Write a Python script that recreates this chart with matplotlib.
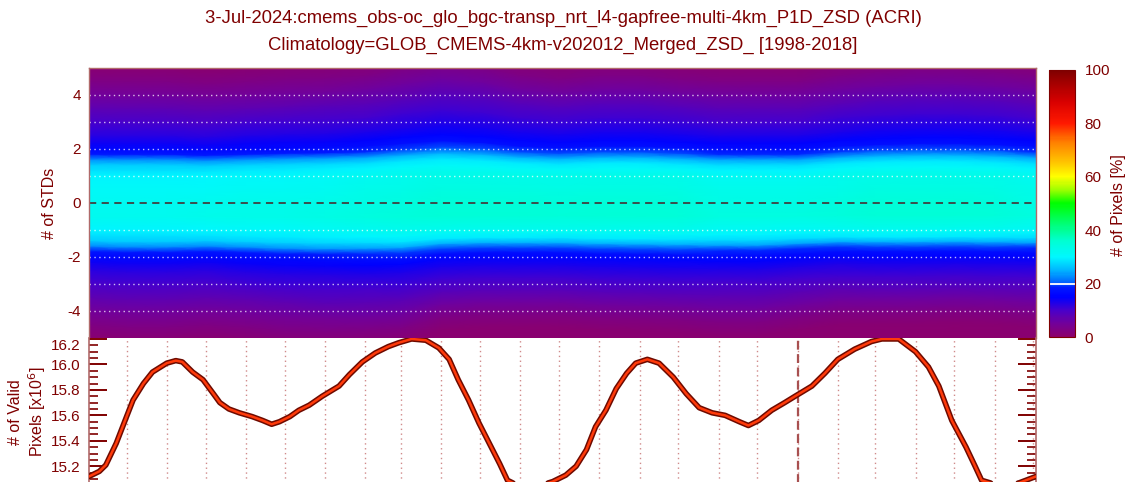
import numpy as np
import matplotlib
matplotlib.use('Agg')
import matplotlib.pyplot as plt
import matplotlib.dates as mdates
from matplotlib.colors import LinearSegmentedColormap
import datetime as dt

# ---------------- data ----------------
title_line1 = "3-Jul-2024:cmems_obs-oc_glo_bgc-transp_nrt_l4-gapfree-multi-4km_P1D_ZSD (ACRI)"
title_line2 = "Climatology=GLOB_CMEMS-4km-v202012_Merged_ZSD_ [1998-2018]"

start_date = "2022-07-03"
end_date = "2024-07-03"
year_mark = "2024-01-01"

curve_dates = [
    "2022-07-03", "2022-07-11", "2022-07-16", "2022-07-24", "2022-08-01", "2022-08-06",
    "2022-08-14", "2022-08-21", "2022-09-01", "2022-09-08", "2022-09-13", "2022-09-21",
    "2022-09-29", "2022-10-07", "2022-10-12", "2022-10-19", "2022-10-27", "2022-11-06",
    "2022-11-14", "2022-11-21", "2022-11-27", "2022-12-05", "2022-12-12", "2022-12-20",
    "2022-12-30", "2023-01-12", "2023-01-20", "2023-01-30", "2023-02-09", "2023-02-19",
    "2023-02-27", "2023-03-09", "2023-03-20", "2023-03-30", "2023-04-07", "2023-04-14",
    "2023-04-22", "2023-04-30", "2023-05-08", "2023-05-16", "2023-05-22", "2023-05-29",
    "2023-06-08", "2023-06-18", "2023-06-26", "2023-07-06", "2023-07-14", "2023-07-22",
    "2023-07-29", "2023-08-06", "2023-08-14", "2023-08-22", "2023-08-29", "2023-09-07",
    "2023-09-16", "2023-09-27", "2023-10-07", "2023-10-17", "2023-10-27", "2023-11-06",
    "2023-11-17", "2023-11-24", "2023-12-02", "2023-12-12", "2023-12-22", "2023-12-30",
    "2024-01-12", "2024-01-22", "2024-02-01", "2024-02-14", "2024-02-27", "2024-03-06",
    "2024-03-19", "2024-04-01", "2024-04-11", "2024-04-19", "2024-04-29", "2024-05-10",
    "2024-05-17", "2024-05-22", "2024-06-04", "2024-06-12", "2024-06-20", "2024-07-03",
]
curve_values = [
    15.12, 15.16, 15.21, 15.38, 15.59, 15.72,
    15.85, 15.94, 16.01, 16.03, 16.02, 15.94,
    15.88, 15.77, 15.70, 15.65, 15.62, 15.59,
    15.56, 15.53, 15.55, 15.59, 15.64, 15.68,
    15.75, 15.83, 15.92, 16.02, 16.09, 16.14,
    16.17, 16.20, 16.19, 16.13, 16.04, 15.88,
    15.72, 15.54, 15.38, 15.22, 15.09, 15.055,
    15.05, 15.055, 15.08, 15.13, 15.20, 15.33,
    15.51, 15.64, 15.81, 15.93, 16.01, 16.04,
    16.01, 15.90, 15.77, 15.66, 15.62, 15.60,
    15.55, 15.52, 15.56, 15.64, 15.70, 15.75,
    15.83, 15.93, 16.04, 16.12, 16.18, 16.20,
    16.20, 16.10, 15.98, 15.83, 15.56, 15.35,
    15.20, 15.09, 15.05, 15.055, 15.07, 15.12,
]

# heat map: distribution of # of pixels [%] vs number of STDs
std_levels = [-6, -5, -4.5, -4, -3.5, -3, -2.5, -2.2, -2.0, -1.8, -1.6, -1.4, -1.2, -1.0,
              -0.5, 0, 0.5, 1.0, 1.2, 1.4, 1.6, 1.8, 2.0, 2.2, 2.5, 3, 3.5, 4, 4.5, 5, 6]
pct_profile = [0, 1, 3, 5.5, 8, 10.5, 13, 15, 16.5, 19, 24, 28, 30, 31.5,
               34, 33.5, 32.5, 31.5, 30, 28, 24, 19, 16.5, 15, 13, 10.5, 8, 5.5, 3, 1, 0]
node_dates = [
    "2022-07-03", "2022-08-01", "2022-09-01", "2022-10-01", "2022-11-01", "2022-12-01",
    "2023-01-01", "2023-02-01", "2023-03-01", "2023-04-01", "2023-05-01", "2023-06-01",
    "2023-07-01", "2023-08-01", "2023-09-01", "2023-10-01", "2023-11-01", "2023-12-01",
    "2024-01-01", "2024-02-01", "2024-03-01", "2024-04-01", "2024-05-01", "2024-06-01",
    "2024-07-03",
]
upper_spread = [1.00, 1.00, 1.00, 0.98, 1.00, 1.02, 1.03, 1.05, 1.10, 1.15, 1.12, 1.05,
                1.02, 1.05, 1.05, 1.02, 1.00, 1.00, 1.00, 1.05, 1.08, 1.10, 1.10, 1.08, 1.05]
lower_spread = [1.00, 1.02, 1.02, 1.00, 1.02, 1.05, 1.06, 1.05, 1.03, 0.94, 0.92, 0.92,
                0.92, 0.94, 0.95, 0.96, 0.98, 0.98, 0.94, 0.90, 0.90, 0.90, 0.89, 0.90, 0.92]
center_gain = [0.95, 0.95, 0.95, 0.96, 0.97, 0.97, 0.98, 1.00, 1.02, 1.04, 1.04, 1.04,
               1.03, 1.04, 1.04, 1.03, 1.00, 1.00, 1.00, 1.02, 1.04, 1.04, 1.04, 1.03, 1.00]

cbar_ticks = [0, 20, 40, 60, 80, 100]
std_ticks = [-4, -2, 0, 2, 4]
pix_ticks = [15.2, 15.4, 15.6, 15.8, 16.0, 16.2]

# ---------------- style ----------------
DR = '#7F0000'
SPINE = '#B06A6A'
plt.rcParams['font.family'] = ['Liberation Sans', 'DejaVu Sans']

cmap = LinearSegmentedColormap.from_list('idl_rainbow', [
    (0.00, (0.55, 0.00, 0.42)),
    (0.05, (0.45, 0.00, 0.60)),
    (0.10, (0.28, 0.00, 0.80)),
    (0.15, (0.00, 0.00, 1.00)),
    (0.185, (0.00, 0.10, 1.00)),
    (0.20, (0.00, 0.35, 1.00)),
    (0.25, (0.00, 0.72, 1.00)),
    (0.30, (0.00, 0.97, 1.00)),
    (0.36, (0.00, 1.00, 0.82)),
    (0.45, (0.00, 1.00, 0.30)),
    (0.50, (0.00, 1.00, 0.00)),
    (0.55, (0.60, 1.00, 0.00)),
    (0.60, (1.00, 1.00, 0.00)),
    (0.66, (1.00, 0.75, 0.00)),
    (0.73, (1.00, 0.50, 0.00)),
    (0.80, (1.00, 0.10, 0.00)),
    (0.88, (0.85, 0.00, 0.00)),
    (1.00, (0.50, 0.00, 0.00)),
])

W, H = 1126, 482
fig = plt.figure(figsize=(W / 100, H / 100), dpi=100)

def rect(x0, y0, x1, y1):
    return [x0 / W, 1 - y1 / H, (x1 - x0) / W, (y1 - y0) / H]

ax1 = fig.add_axes(rect(89, 67.7, 1036, 337.7))
ax2 = fig.add_axes(rect(89, 337.7, 1036, 486))
cax = fig.add_axes(rect(1049, 69.5, 1075, 337.3))

d0 = mdates.datestr2num(start_date)
d1 = mdates.datestr2num(end_date)

# --- heat map ---
nd = mdates.datestr2num(node_dates)
s = np.array(std_levels)[:, None]
spread = np.where(s >= 0, np.array(upper_spread)[None, :], np.array(lower_spread)[None, :])
X = np.tile(nd, (len(std_levels), 1))
Y = s * spread
C = np.array(pct_profile)[:, None] * np.array(center_gain)[None, :]
mesh = ax1.pcolormesh(X, Y, C, shading='gouraud', cmap=cmap, vmin=0, vmax=100)
ax1.set_xlim(d0, d1)
ax1.set_ylim(-5, 5)
for lev in [-4, -3, -2, -1, 1, 2, 3, 4]:
    ax1.axhline(lev, color='white', lw=1.0, alpha=0.75, ls=(0, (1, 2.5)))
ax1.axhline(0, color='#404040', lw=1.3, ls=(0, (4, 3)))
ax1.set_yticks(std_ticks)
ax1.set_yticklabels([str(t) for t in std_ticks])
ax1.tick_params(axis='y', length=0, pad=6, labelsize=11, labelcolor=DR)
ax1.set_xticks([])
for sp in ax1.spines.values():
    sp.set_color(SPINE)
    sp.set_linewidth(1.0)
ax1.spines['bottom'].set_visible(False)
fig.text(49 / W, 1 - 203 / H, '# of STDs', rotation=90, ha='center', va='center',
         color=DR, fontsize=11.5)

# --- colorbar ---
cb = fig.colorbar(mesh, cax=cax, ticks=cbar_ticks)
cb.outline.set_edgecolor(DR)
cb.outline.set_linewidth(0.8)
cax.tick_params(length=0, pad=7, labelsize=11, labelcolor=DR)
cax.axhline(20, color='white', lw=1.3)
fig.text(1119 / W, 1 - 205 / H, '# of Pixels [%]', rotation=90, ha='center', va='center',
         color=DR, fontsize=11.5)

# --- valid pixels curve ---
cd = mdates.datestr2num(curve_dates)
ax2.plot(cd, curve_values, color='#6E0A00', lw=4.0, solid_capstyle='round',
         solid_joinstyle='round', zorder=3)
ax2.plot(cd, curve_values, color='#FF3A0A', lw=1.8, solid_joinstyle='round', zorder=4)
ax2.set_xlim(d0, d1)
ax2.set_ylim(15.045, 16.21)
month_starts = []
y, m = 2022, 8
while (y, m) <= (2024, 7):
    month_starts.append(mdates.date2num(dt.datetime(y, m, 1)))
    m += 1
    if m > 12:
        m, y = 1, y + 1
for ms in month_starts:
    ax2.axvline(ms, color='#D08A8A', lw=1.0, ls=(0, (1, 2.5)), zorder=1)
ax2.axvline(mdates.datestr2num(year_mark), color='#A85050', lw=1.6, ls=(0, (4, 2)), zorder=2)
ax2.set_xticks([])
ax2.set_yticks(pix_ticks)
ax2.set_yticklabels(['%.1f' % t for t in pix_ticks])
ax2.yaxis.set_minor_locator(matplotlib.ticker.MultipleLocator(0.05))
ax2.tick_params(axis='y', which='major', direction='in', length=13, width=1.4,
                color=DR, left=True, right=True, labelsize=11, labelcolor=DR, pad=6)
ax2.tick_params(axis='y', which='minor', direction='in', length=6.5, width=1.2,
                color=DR, left=True, right=True)
for lbl in ax2.get_yticklabels():
    if lbl.get_text() == '16.2':
        lbl.set_va('top')
for sp in ax2.spines.values():
    sp.set_color(SPINE)
    sp.set_linewidth(1.2)
ax2.spines['top'].set_visible(False)
fig.text(28 / W, 1 - 412 / H, '# of Valid\nPixels [x10$^6$]', rotation=90, ha='center',
         va='center', color=DR, fontsize=11.5, multialignment='center', linespacing=1.15)

# --- title ---
fig.text(563 / W, 1 - 18 / H, title_line1, ha='center', va='center', color=DR, fontsize=13.3)
fig.text(563 / W, 1 - 45 / H, title_line2, ha='center', va='center', color=DR, fontsize=13.3)

fig.savefig('out.png', dpi=100)
